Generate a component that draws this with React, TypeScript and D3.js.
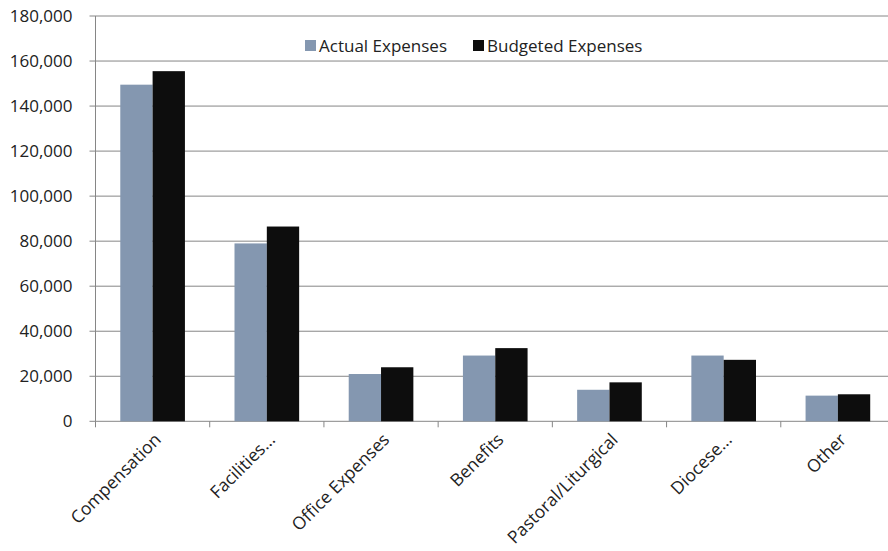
import React from 'react';
import * as d3 from 'd3';

const categories = ['Compensation', 'Facilities...', 'Office Expenses', 'Benefits', 'Pastoral/Liturgical', 'Diocese...', 'Other'];
const actualExpenses = [149500, 79000, 21000, 29200, 14000, 29200, 11400];
const budgetedExpenses = [155500, 86500, 24000, 32500, 17300, 27300, 12000];
const seriesNames = ['Actual Expenses', 'Budgeted Expenses'];
const seriesColors = ['#8497B0', '#0D0D0D'];
const yTicks = [0, 20000, 40000, 60000, 80000, 100000, 120000, 140000, 160000, 180000];

const width = 888;
const height = 551;
const left = 95.5;
const right = 895;
const top = 16;
const bottom = 421.3;
const font = "'Open Sans', sans-serif";

export default function App() {
  const x = d3.scaleBand<string>()
    .domain(categories)
    .range([left, right])
    .paddingInner(0.434)
    .paddingOuter(0.217);

  const sub = d3.scaleBand<number>()
    .domain([0, 1])
    .range([0, x.bandwidth()]);

  const y = d3.scaleLinear()
    .domain([0, 180000])
    .range([bottom, top]);

  const fmt = d3.format(',');
  const series = [actualExpenses, budgetedExpenses];
  const step = x.step();

  return (
    <svg width={width} height={height} style={{ position: 'absolute', left: 0, top: 0 }} fontFamily={font}>
      <rect width={width} height={height} fill="#fff" />

      {/* gridlines + y ticks */}
      {yTicks.map(t => (
        <g key={t}>
          <line x1={left - 6} x2={width} y1={y(t)} y2={y(t)} stroke="#868686" strokeWidth={1} />
          <text x={left - 23} y={y(t)} dy="0.36em" textAnchor="end" fontSize={17} fill="#222">{fmt(t)}</text>
        </g>
      ))}

      {/* y axis line */}
      <line x1={left} x2={left} y1={top} y2={bottom} stroke="#868686" strokeWidth={1} />

      {/* category tick marks */}
      {d3.range(categories.length + 1).map(i => (
        <line key={i} x1={left + i * step} x2={left + i * step} y1={bottom} y2={bottom + 6} stroke="#868686" strokeWidth={1} />
      ))}

      {/* bars */}
      {categories.map((c, i) => (
        <g key={c}>
          {series.map((s, j) => (
            <rect
              key={j}
              x={(x(c) || 0) + (sub(j) || 0)}
              y={y(s[i])}
              width={sub.bandwidth()}
              height={bottom - y(s[i])}
              fill={seriesColors[j]}
            />
          ))}
        </g>
      ))}

      {/* x labels */}
      {categories.map(c => {
        const cx = (x(c) || 0) + x.bandwidth() / 2 + 5;
        const cy = bottom + 15;
        return (
          <text key={c} x={cx} y={cy} textAnchor="end" fontSize={17.5} fill="#222"
            transform={`rotate(-45,${cx},${cy})`} dy="0.36em">{c}</text>
        );
      })}

      {/* legend */}
      {seriesNames.map((n, j) => {
        const lx = [305, 473][j];
        return (
          <g key={n}>
            <rect x={lx} y={40} width={11} height={11} fill={seriesColors[j]} />
            <text x={lx + 14} y={45.5} dy="0.36em" fontSize={17} fill="#222">{n}</text>
          </g>
        );
      })}
    </svg>
  );
}
